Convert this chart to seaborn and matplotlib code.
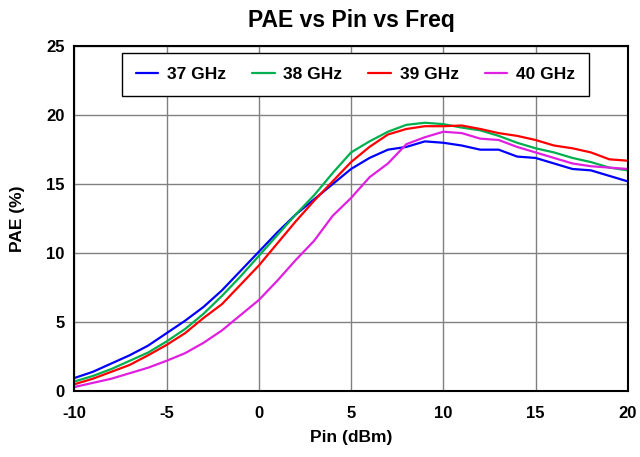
import numpy as np
import pandas as pd
import matplotlib
matplotlib.use('Agg')
import matplotlib.pyplot as plt
import seaborn as sns

# Values (1 dBm steps)
pin = list(range(-10, 21))
pae_37 = [0.95, 1.4, 2.0, 2.6, 3.3, 4.2, 5.1, 6.1, 7.3, 8.7, 10.1, 11.5, 12.8, 13.9, 15.0, 16.1,
          16.9, 17.5, 17.7, 18.1, 18.0, 17.8, 17.5, 17.5, 17.0, 16.9, 16.5, 16.1, 16.0, 15.6, 15.2]
pae_38 = [0.7, 1.1, 1.6, 2.2, 2.8, 3.6, 4.5, 5.6, 6.9, 8.3, 9.8, 11.3, 12.8, 14.2, 15.8, 17.3,
          18.1, 18.8, 19.3, 19.45, 19.35, 19.1, 18.9, 18.5, 18.0, 17.6, 17.3, 16.9, 16.6, 16.2, 16.0]
pae_39 = [0.5, 0.9, 1.4, 1.9, 2.6, 3.35, 4.2, 5.3, 6.3, 7.7, 9.1, 10.7, 12.3, 13.8, 15.2, 16.6,
          17.7, 18.6, 19.0, 19.2, 19.2, 19.25, 19.0, 18.7, 18.5, 18.2, 17.8, 17.6, 17.3, 16.8, 16.7]
pae_40 = [0.3, 0.6, 0.9, 1.3, 1.7, 2.2, 2.75, 3.5, 4.4, 5.5, 6.6, 8.0, 9.5, 10.9, 12.7, 14.0,
          15.5, 16.5, 17.9, 18.4, 18.8, 18.7, 18.3, 18.2, 17.7, 17.3, 16.9, 16.5, 16.3, 16.2, 16.1]
freqs = ['37 GHz', '38 GHz', '39 GHz', '40 GHz']
colors = ['#0000FF', '#00B050', '#FF0000', '#E020E0']

# long-form table for seaborn
df = pd.concat([
    pd.DataFrame({'Pin': pin, 'PAE': vals, 'Freq': f})
    for f, vals in zip(freqs, [pae_37, pae_38, pae_39, pae_40])
])

sns.set_style('white')
plt.rcParams['font.family'] = ['Liberation Sans', 'DejaVu Sans']
plt.rcParams['axes.unicode_minus'] = False
plt.rcParams['text.color'] = 'black'
plt.rcParams['axes.labelcolor'] = 'black'
plt.rcParams['xtick.color'] = 'black'
plt.rcParams['ytick.color'] = 'black'

fig = plt.figure(figsize=(6.4, 4.57), dpi=100)
ax = fig.add_axes([0.116, 0.144, 0.865, 0.755])

sns.lineplot(data=df, x='Pin', y='PAE', hue='Freq', palette=dict(zip(freqs, colors)),
             linewidth=1.6, ax=ax)
for ln in ax.get_lines():
    ln.set_solid_joinstyle('round')

ax.set_xlim(-10, 20)
ax.set_ylim(0, 25)
ax.set_xticks(range(-10, 21, 5))
ax.set_yticks(range(0, 26, 5))
ax.grid(True, color='#808080', linewidth=1)
ax.set_axisbelow(True)
for s in ax.spines.values():
    s.set_color('black')
    s.set_linewidth(1.5)

ax.tick_params(labelsize=12, length=0)
ax.tick_params(axis='x', pad=11)
ax.tick_params(axis='y', pad=7)
for lbl in ax.get_xticklabels() + ax.get_yticklabels():
    lbl.set_fontweight('bold')

ax.set_xlabel('Pin (dBm)', fontsize=12.5, fontweight='bold', labelpad=6)
ax.set_ylabel('PAE (%)', fontsize=12.5, fontweight='bold', labelpad=15)
ax.set_title('PAE vs Pin vs Freq', fontsize=16.5, fontweight='bold', pad=14)

leg = ax.legend(loc='upper center', bbox_to_anchor=(0.508, 0.98), ncol=4, frameon=True,
                fancybox=False, framealpha=1, edgecolor='black', borderaxespad=0,
                prop={'weight': 'bold', 'size': 12.5}, handlelength=1.3, handletextpad=0.5,
                columnspacing=1.5, borderpad=0.8, title=None)
leg.get_frame().set_linewidth(1.0)

fig.savefig('out.png', dpi=100)
